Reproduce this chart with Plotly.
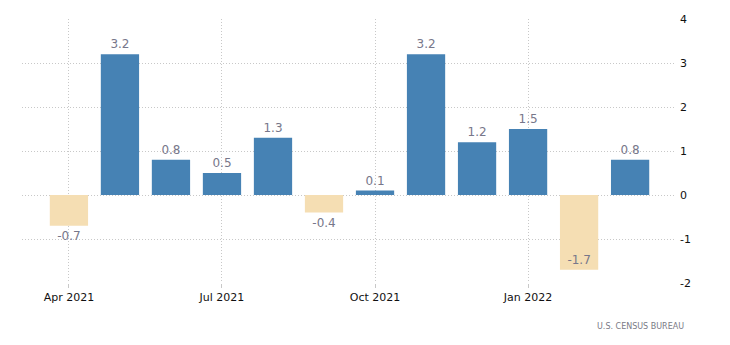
import plotly.graph_objects as go

months = ["Apr 2021", "May 2021", "Jun 2021", "Jul 2021", "Aug 2021", "Sep 2021",
          "Oct 2021", "Nov 2021", "Dec 2021", "Jan 2022", "Feb 2022", "Mar 2022"]
values = [-0.7, 3.2, 0.8, 0.5, 1.3, -0.4, 0.1, 3.2, 1.2, 1.5, -1.7, 0.8]
tick_labels = ["Apr 2021", "Jul 2021", "Oct 2021", "Jan 2022"]
y_ticks = [-2, -1, 0, 1, 2, 3, 4]

colors = ["#4682B4" if v >= 0 else "#F5DEB3" for v in values]
positions = ["inside" if v < -1.5 else "outside" for v in values]
label_font = dict(family="DejaVu Sans", size=12, color="#77778a")

fig = go.Figure(go.Bar(
    x=months, y=values,
    marker=dict(color=colors, line=dict(width=0)),
    text=[f"{v:.1f}" for v in values],
    textposition=positions,
    insidetextanchor="end",
    textfont=label_font,
    outsidetextfont=label_font,
    insidetextfont=label_font,
    width=0.75,
    cliponaxis=False,
))

fig.update_layout(
    width=730, height=345,
    margin=dict(l=22, r=55, t=19, b=62),
    plot_bgcolor="white", paper_bgcolor="white",
    showlegend=False,
    xaxis=dict(
        type="category",
        range=[-0.92, 11.88],
        tickmode="array", tickvals=tick_labels, ticktext=tick_labels,
        showgrid=True, gridcolor="#c8c8c8", griddash="1px,2px", gridwidth=1,
        ticks="outside", ticklen=4, tickcolor="#c8c8c8",
        tickfont=dict(family="DejaVu Sans", size=11, color="#111111"),
        showline=False, zeroline=False,
    ),
    yaxis=dict(
        side="right",
        range=[-2, 4],
        tickmode="array",
        tickvals=y_ticks,
        ticktext=[str(t) for t in y_ticks],
        showgrid=True, gridcolor="#c8c8c8", griddash="1px,2px", gridwidth=1,
        zeroline=False, showline=False,
        tickfont=dict(family="DejaVu Sans", size=11, color="#111111"),
        ticks="", ticklabelstandoff=4,
    ),
    annotations=[dict(
        text="U.S. CENSUS BUREAU", xref="paper", yref="paper",
        x=1.0, y=-0.14, xanchor="right", yanchor="top", showarrow=False,
        xshift=11,
        font=dict(family="DejaVu Sans", size=8, color="#7a7a85"),
    )],
)

fig.write_html("out.html")
